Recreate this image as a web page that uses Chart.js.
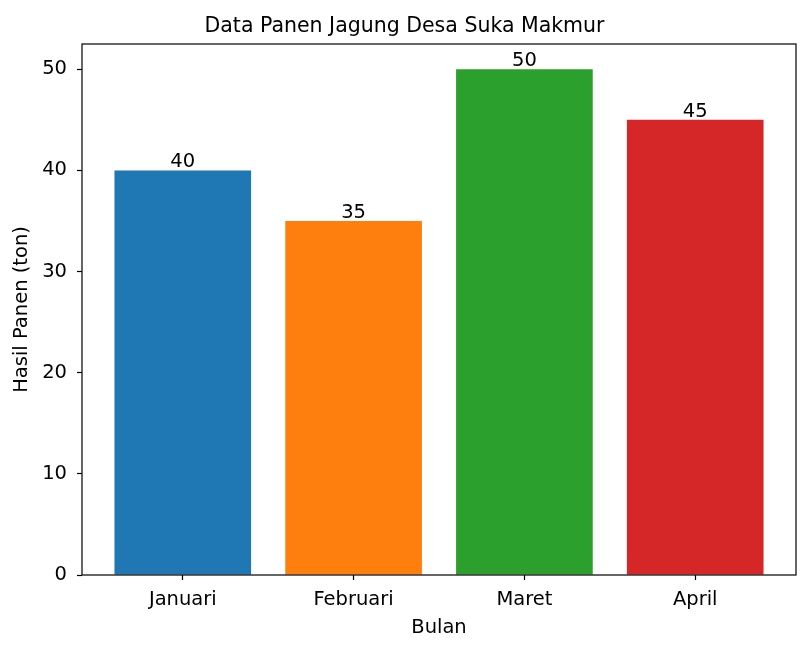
<!DOCTYPE html>
<html>
<head>
<meta charset="utf-8">
<script src="https://cdn.jsdelivr.net/npm/chart.js@4/dist/chart.umd.min.js"></script>
<style>
  html, body { margin: 0; padding: 0; background: #fff; }
  #wrap { width: 809px; height: 652px; }
</style>
</head>
<body>
<div id="wrap"><canvas id="c" width="809" height="652"></canvas></div>
<script>
// data
const months = ["Januari", "Februari", "Maret", "April"];
const harvest = [40, 35, 50, 45];
const barColors = ["#1f77b4", "#ff7f0e", "#2ca02c", "#d62728"];
const yTicks = [0, 10, 20, 30, 40, 50];

const FONT = "'DejaVu Sans', sans-serif";
const FS = 19.5;

// full box around the plot, like matplotlib spines
const frame = {
  id: "frame",
  afterDraw(chart) {
    const { ctx, chartArea: a } = chart;
    ctx.save();
    ctx.strokeStyle = "#000";
    ctx.lineWidth = 1.2;
    ctx.strokeRect(a.left, a.top, a.right - a.left, a.bottom - a.top);
    ctx.restore();
  },
};

// value labels on top of each bar
const barLabels = {
  id: "barLabels",
  afterDatasetsDraw(chart) {
    const { ctx } = chart;
    const meta = chart.getDatasetMeta(0);
    ctx.save();
    ctx.fillStyle = "#000";
    ctx.font = FS + "px " + FONT;
    ctx.textAlign = "center";
    ctx.textBaseline = "alphabetic";
    meta.data.forEach((bar, i) => {
      ctx.fillText(String(harvest[i]), bar.x, bar.y - 3);
    });
    ctx.restore();
  },
};

new Chart(document.getElementById("c"), {
  type: "bar",
  data: {
    datasets: [{
      data: harvest.map((v, i) => ({ x: i, y: v })),
      backgroundColor: barColors,
      borderWidth: 0,
      categoryPercentage: 1,
      barPercentage: 0.8,
    }],
  },
  options: {
    responsive: false,
    animation: false,
    layout: { padding: 0 },
    plugins: {
      legend: { display: false },
      tooltip: { enabled: false },
      title: {
        display: true,
        text: "Data Panen Jagung Desa Suka Makmur",
        color: "#000",
        font: { family: FONT, size: 20.5, weight: "normal", lineHeight: 1.2 },
        padding: { top: 14, bottom: 5.4 },
      },
    },
    scales: {
      x: {
        type: "linear",
        min: -0.59,
        max: 3.59,
        offset: false,
        afterBuildTicks: (s) => { s.ticks = months.map((m, i) => ({ value: i })); },
        afterFit: (s) => { s.height = 77; },
        ticks: {
          color: "#000",
          font: { family: FONT, size: FS },
          padding: 8,
          maxRotation: 0,
          autoSkip: false,
          callback: (v) => months[v] ?? "",
        },
        grid: { offset: false, drawOnChartArea: false, drawTicks: true, tickLength: 5, tickColor: "#000", tickWidth: 1.2 },
        border: { display: false },
        title: {
          display: true,
          text: "Bulan",
          color: "#000",
          font: { family: FONT, size: FS },
          padding: { top: 0, bottom: 12 },
        },
      },
      y: {
        min: 0,
        max: 52.5,
        afterBuildTicks: (s) => { s.ticks = yTicks.map((v) => ({ value: v })); },
        afterFit: (s) => { s.width = 82; },
        ticks: {
          color: "#000",
          font: { family: FONT, size: FS },
          padding: 10,
        },
        grid: { drawOnChartArea: false, drawTicks: true, tickLength: 5, tickColor: "#000", tickWidth: 1.2 },
        border: { display: false },
        title: {
          display: true,
          text: "Hasil Panen (ton)",
          color: "#000",
          font: { family: FONT, size: FS },
          padding: { top: 10, bottom: 0 },
        },
      },
      // empty strip on the right so the title stays centred on the page
      gap: {
        position: "right",
        axis: "y",
        display: true,
        afterFit: (s) => { s.width = 13; },
        ticks: { display: false },
        grid: { display: false },
        border: { display: false },
      },
    },
  },
  plugins: [frame, barLabels],
});
</script>
</body>
</html>
